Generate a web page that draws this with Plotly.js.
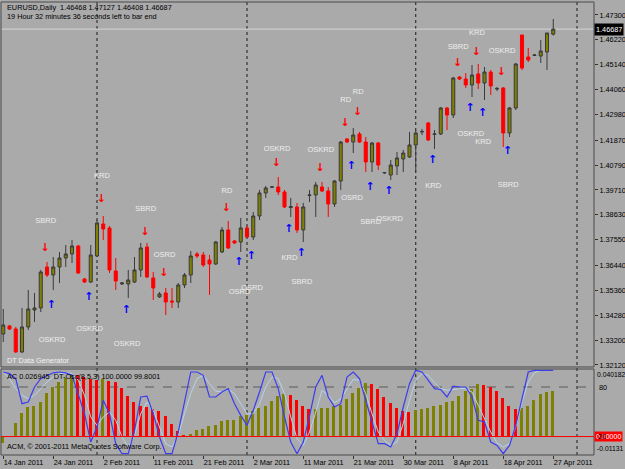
<!DOCTYPE html>
<html><head><meta charset="utf-8">
<script src="https://cdn.plot.ly/plotly-3.0.1.min.js"></script>
<style>html,body{margin:0;padding:0;background:#aaaaaa;}#chart{width:625px;height:469px;}</style>
</head><body><div id="chart"></div>
<script>
// ---- data ----
const dateLabels = ['14 Jan 2011','24 Jan 2011','2 Feb 2011','11 Feb 2011','21 Feb 2011','2 Mar 2011','11 Mar 2011','21 Mar 2011','30 Mar 2011','8 Apr 2011','18 Apr 2011','27 Apr 2011'];
const dateLabelIdx = [0,8,16,24,32,40,48,56,64,72,80,88];
const separatorIdx = [15,39,66,91.8];

const openP = [1.33465,1.33812,1.33681,1.32684,1.33768,1.34505,1.34592,1.36370,1.36023,1.36370,
1.36760,1.36934,1.37281,1.35850,1.35719,1.36847,1.38235,1.38062,1.36196,1.35633,
1.35633,1.35719,1.36240,1.37238,1.35893,1.35070,1.35243,1.34896,1.34852,1.35589,
1.36023,1.36934,1.36891,1.36674,1.36500,1.37021,1.37975,1.37498,1.37455,1.38062,
1.37671,1.38582,1.39580,1.39830,1.39840,1.39623,1.38950,1.38972,1.37975,1.39471,
1.39493,1.39840,1.39667,1.39103,1.40100,1.41922,1.41791,1.42139,1.41791,1.40924,
1.41748,1.40447,1.40360,1.40750,1.41054,1.41141,1.41662,1.42225,1.42616,1.42117,
1.42139,1.43266,1.42962,1.44610,1.44524,1.44264,1.44741,1.44350,1.44827,1.44090,
1.44134,1.42182,1.43266,1.46432,1.45478,1.45543,1.45521,1.45695,1.46468];
const highP = [1.34549,1.33855,1.33768,1.34592,1.35373,1.35243,1.36240,1.36587,1.36804,1.37021,
1.37324,1.37541,1.37324,1.35893,1.37324,1.38409,1.38582,1.38149,1.36760,1.35719,
1.36240,1.36804,1.37411,1.37411,1.36153,1.35286,1.35460,1.35460,1.35676,1.36110,
1.37064,1.37021,1.37021,1.36891,1.37498,1.38105,1.38365,1.37541,1.38495,1.38149,
1.38755,1.39710,1.39884,1.39884,1.40273,1.39710,1.39363,1.39146,1.39146,1.39710,
1.40057,1.40057,1.39840,1.40143,1.41835,1.41965,1.42399,1.42225,1.42008,1.41791,
1.41791,1.40490,1.41011,1.41358,1.41445,1.42225,1.42312,1.42355,1.42659,1.42312,
1.43309,1.43309,1.44610,1.44654,1.44784,1.45131,1.45174,1.45044,1.44914,1.44177,
1.44177,1.43309,1.45218,1.46432,1.45868,1.45608,1.46215,1.46519,1.47127];
const lowP = [1.33117,1.33638,1.32641,1.32641,1.33638,1.33985,1.34418,1.35936,1.35373,1.35676,
1.36370,1.36544,1.36066,1.35676,1.35676,1.36804,1.37541,1.36110,1.35373,1.35589,
1.35026,1.35676,1.35936,1.35893,1.34939,1.35026,1.34288,1.34592,1.34592,1.35460,
1.35676,1.36760,1.36370,1.35156,1.36457,1.36977,1.37151,1.37368,1.37021,1.37628,
1.37541,1.38409,1.39363,1.39797,1.39493,1.38929,1.38539,1.37845,1.37455,1.39189,
1.38539,1.39623,1.38539,1.38972,1.39710,1.41748,1.41314,1.41748,1.40490,1.40490,
1.40577,1.40403,1.40143,1.40360,1.40490,1.41098,1.40490,1.42095,1.41835,1.41488,
1.42095,1.42312,1.42832,1.44480,1.44134,1.43743,1.44090,1.43613,1.43830,1.44003,
1.41575,1.42008,1.43179,1.44914,1.45261,1.45521,1.45218,1.44914,1.46408];
const closeP = [1.33855,1.33681,1.32684,1.33768,1.34549,1.34592,1.36153,1.36023,1.36370,1.36760,
1.36934,1.37281,1.36110,1.35719,1.36891,1.38279,1.38018,1.36240,1.35763,1.35676,
1.35806,1.36240,1.37194,1.35936,1.35460,1.35200,1.34852,1.34852,1.35589,1.36023,
1.36847,1.36847,1.36457,1.36500,1.37455,1.37975,1.37194,1.37411,1.38062,1.37671,
1.38582,1.39580,1.39797,1.39840,1.39623,1.38972,1.38994,1.37975,1.38972,1.39493,
1.39927,1.39667,1.39103,1.40100,1.41791,1.41791,1.42095,1.41791,1.40924,1.41748,
1.40794,1.40468,1.40794,1.41098,1.41314,1.41662,1.42182,1.42247,1.41878,1.42139,
1.43266,1.42962,1.44567,1.44524,1.44264,1.44697,1.44350,1.44827,1.44220,1.44112,
1.42182,1.43266,1.45174,1.45001,1.45348,1.45565,1.45738,1.46519,1.46687];

const acValues = [-0.0040,0.0005,0.0080,0.0140,0.0174,0.0180,0.0204,0.0260,0.0294,0.0326,
0.0350,0.0370,0.0366,0.0352,0.0345,0.0338,0.0345,0.0330,0.0323,0.0290,
0.0244,0.0206,0.0180,0.0174,0.0166,0.0150,0.0120,0.0074,0.0034,0.0010,
0.0016,0.0036,0.0044,0.0060,0.0070,0.0090,0.0096,0.0097,0.0124,0.0130,
0.0150,0.0170,0.0184,0.0210,0.0240,0.0256,0.0246,0.0220,0.0180,0.0164,
0.0166,0.0167,0.0170,0.0180,0.0190,0.0226,0.0260,0.0290,0.0320,0.0314,
0.0284,0.0236,0.0200,0.0170,0.0150,0.0144,0.0156,0.0164,0.0170,0.0184,
0.0190,0.0204,0.0214,0.0244,0.0274,0.0284,0.0310,0.0308,0.0294,0.0274,
0.0230,0.0180,0.0164,0.0170,0.0180,0.0220,0.0256,0.0264,0.026945];
const oscMain = [98,96,90,60,62,80,90,94,97,98,
97,94,72,48,14,32,64,48,12,0,
0,28,68,69,48,20,0,0,26,60,
98,98,94,68,68,74,78,60,46,34,
52,74,98,98,78,44,14,0,14,45,
80,94,68,56,60,92,98,90,64,40,
12,12,8,24,56,84,100,98,88,78,
77,68,81,80,80,68,40,38,14,10,
0,10,34,66,98,100,100,100,100];
const oscSignal = [98,90,78,70,66,70,78,86,92,96,
97,96,88,70,44,34,44,50,40,20,
8,22,48,62,52,32,12,8,22,48,
72,90,94,84,75,74,77,72,60,48,
48,60,80,92,90,72,44,18,10,26,
50,76,70,61,66,78,89,88,72,48,
26,16,10,14,36,64,88,96,94,85,
78,76,77,78,78,74,58,42,26,13,
8,12,32,62,86,97,100,100,99.8001];

const priceTicks = [1.47300,1.46220,1.45140,1.44060,1.42980,1.41870,1.40790,1.39710,1.38630,1.37550,1.36440,1.35360,1.34280,1.33200,1.32120];

const downArrowIdx = [7,16,23,26,36,44,51,55,57,73,76,80];
const downArrowPrice = [1.37194,1.39320,1.37888,1.36110,1.38929,1.40881,1.40664,1.42616,1.43093,1.45218,1.45695,1.44827];
const upArrowIdx = [8,14,20,38,40,46,48,56,59,62,69,75,77,81];
const upArrowPrice = [1.34722,1.35069,1.34505,1.36587,1.36847,1.38018,1.36977,1.40750,1.39840,1.39666,1.41011,1.43266,1.43049,1.41401];

const tagText = ['SBRD','KRD','SBRD','OSKRD','OSKRD','OSKRD','OSRD','RD','OSKRD','OSKRD','RD','RD','OSRD','SBRD','OSKRD','OSRD','OSRD','KRD','SBRD','KRD','OSKRD','KRD','SBRD','KRD','SBRD','OSKRD'];
const tagIdx = [7,16,23,8,14,20,26,36,44,51,55,57,56,59,62,38,40,46,48,69,75,77,81,76,73,80];
const tagPrice = [1.38365,1.40317,1.38886,1.33204,1.33681,1.33031,1.36891,1.39666,1.41488,1.41445,1.43613,1.43960,1.39363,1.38322,1.38452,1.35286,1.35460,1.36760,1.35720,1.39883,1.42138,1.41791,1.39927,1.46519,1.45912,1.45738];

// ---- build ----
const idx = openP.map((_, i) => i);
const last = openP.length - 1;
const F = 'Liberation Sans, Arial, sans-serif';
const OLIVE = '#808000', RED = '#ff0000';
const acColors = acValues.map((v, i) => (i === 0 || v >= acValues[i - 1]) ? OLIVE : RED);

const traces = [
  {type:'candlestick', x:idx, open:openP, high:highP, low:lowP, close:closeP,
   xaxis:'x', yaxis:'y', whiskerwidth:0, hoverinfo:'skip',
   increasing:{line:{color:'#3a3a3a', width:1}, fillcolor:OLIVE},
   decreasing:{line:{color:RED, width:1}, fillcolor:RED}},
  {type:'scatter', mode:'text', x:tagIdx.map(v => v - 0.2), y:tagPrice, text:tagText,
   textfont:{family:F, size:7.5, color:'#eeeeee'}, xaxis:'x', yaxis:'y', hoverinfo:'skip', cliponaxis:false},
  {type:'scatter', mode:'text', x:downArrowIdx.map(v => v - 0.3), y:downArrowPrice, text:downArrowIdx.map(() => '↓'),
   textfont:{family:'DejaVu Sans', size:11, color:RED, weight:'bold'}, xaxis:'x', yaxis:'y', hoverinfo:'skip'},
  {type:'scatter', mode:'text', x:upArrowIdx.map(v => v - 0.3), y:upArrowPrice, text:upArrowIdx.map(() => '↑'),
   textfont:{family:'DejaVu Sans', size:11, color:'#0000ff', weight:'bold'}, xaxis:'x', yaxis:'y', hoverinfo:'skip'},
  {type:'bar', x:idx, y:acValues, marker:{color:acColors, line:{width:0}}, width:0.48, offset:-0.36,
   xaxis:'x', yaxis:'y2', hoverinfo:'skip'},
  {type:'scatter', mode:'lines', x:idx, y:oscSignal, line:{color:'#b4d4ec', width:1},
   xaxis:'x', yaxis:'y3', hoverinfo:'skip'},
  {type:'scatter', mode:'lines', x:idx, y:oscMain, line:{color:'#3c3cf0', width:1.2},
   xaxis:'x', yaxis:'y3', hoverinfo:'skip'}
];

const mainDom = [0.1943, 1], subDom = [0, 0.1898];
const shapes = [];
separatorIdx.forEach(s => shapes.push({type:'line', xref:'x', yref:'paper', x0:s, x1:s, y0:0, y1:1,
  line:{color:'#1a1a1a', width:1, dash:'dot'}, layer:'below'}));
shapes.push({type:'line', xref:'paper', yref:'y', x0:0, x1:1, y0:closeP[last], y1:closeP[last], line:{color:'#d4d4d4', width:1}, layer:'below'});
shapes.push({type:'line', xref:'paper', yref:'y3', x0:0, x1:1, y0:80, y1:80, line:{color:'#5a5a5a', width:1, dash:'dash'}, layer:'below'});
shapes.push({type:'line', xref:'paper', yref:'y2', x0:0, x1:1, y0:0, y1:0, line:{color:RED, width:1}, layer:'above'});
shapes.push({type:'rect', xref:'paper', yref:'paper', x0:0, x1:1, y0:mainDom[0], y1:mainDom[1], line:{color:'#4a4a4a', width:1}});
shapes.push({type:'rect', xref:'paper', yref:'paper', x0:0, x1:1, y0:subDom[0], y1:subDom[1], line:{color:'#4a4a4a', width:1}});

const f5 = v => v.toFixed(5);
const annotations = [
  {xref:'paper', yref:'paper', x:0, y:1, xanchor:'left', yanchor:'top', xshift:4, yshift:1, showarrow:false, align:'left',
   text:'EURUSD,Daily  ' + [openP[last], highP[last], lowP[last], closeP[last]].map(f5).join(' ') + '<br>19 Hour 32 minutes 36 seconds left to bar end',
   font:{family:F, size:7.3, color:'#000'}},
  {xref:'paper', yref:'paper', x:0, y:mainDom[0], xanchor:'left', yanchor:'bottom', xshift:4, yshift:0, showarrow:false,
   text:'DT Data Generator', font:{family:F, size:7.3, color:'#f2f2f2'}},
  {xref:'paper', yref:'paper', x:0, y:subDom[1], xanchor:'left', yanchor:'top', xshift:4, yshift:-1, showarrow:false,
   text:'AC ' + acValues[last].toFixed(6) + '  DT-Osc(8,5,3) ' + oscMain[last].toFixed(4) + ' ' + oscSignal[last].toFixed(4),
   font:{family:F, size:7.3, color:'#000'}},
  {xref:'paper', yref:'paper', x:0, y:0, xanchor:'left', yanchor:'bottom', xshift:4, yshift:2, showarrow:false,
   text:'ACM, © 2001-2011 MetaQuotes Software Corp.', font:{family:F, size:7.3, color:'#000'}},
  {xref:'paper', yref:'y', x:1, y:closeP[last], xanchor:'left', yanchor:'middle', xshift:0, showarrow:false,
   text:f5(closeP[last]), bgcolor:'#000000', font:{family:F, size:7.3, color:'#ffffff'}, borderpad:1},
  {xref:'paper', yref:'paper', x:1, y:subDom[1], xanchor:'left', yanchor:'top', xshift:1, showarrow:false,
   text:'0.040182', font:{family:F, size:6.8, color:'#000'}},
  {xref:'paper', yref:'y3', x:1, y:80, xanchor:'left', yanchor:'middle', xshift:3, showarrow:false,
   text:'80', font:{family:F, size:7.3, color:'#000'}},
  {xref:'paper', yref:'y2', x:1, y:0, xanchor:'left', yanchor:'middle', xshift:0, showarrow:false,
   text:'0.00000', bgcolor:RED, font:{family:F, size:7, color:'#ffffff'}, borderpad:1},
  {xref:'paper', yref:'y2', x:1, y:0, xanchor:'left', yanchor:'middle', xshift:2, showarrow:false,
   text:'20', font:{family:F, size:7, color:'#000'}},
  {xref:'paper', yref:'paper', x:1, y:0, xanchor:'left', yanchor:'bottom', xshift:1, yshift:1, showarrow:false,
   text:'-0.01131', font:{family:F, size:6.8, color:'#000'}}
];

const layout = {
  width:625, height:469,
  margin:{l:1, r:31, t:2, b:14, pad:0},
  paper_bgcolor:'#aaaaaa', plot_bgcolor:'#aaaaaa',
  showlegend:false, hovermode:false,
  font:{family:F, size:7.3, color:'#000'},
  xaxis:{range:[-0.36, 94.52], anchor:'y2', showgrid:false, zeroline:false, showline:false,
    tickmode:'array', tickvals:dateLabelIdx, ticktext:dateLabels, ticks:'outside', ticklen:3, tickcolor:'#333',
    ticklabelposition:'outside right', tickfont:{family:F, size:7.3, color:'#000'},
    rangeslider:{visible:false}, fixedrange:true},
  yaxis:{domain:mainDom, range:[1.32033, 1.47863], side:'right', anchor:'x',
    tickmode:'array', tickvals:priceTicks, ticktext:priceTicks.map(f5), ticks:'outside', ticklen:3, tickcolor:'#333',
    tickfont:{family:F, size:7.3, color:'#000'}, showgrid:false, zeroline:false, showline:false, fixedrange:true},
  yaxis2:{domain:subDom, range:[-0.0110, 0.0402], anchor:'x', showticklabels:false, ticks:'',
    showgrid:false, zeroline:false, showline:false, fixedrange:true},
  yaxis3:{overlaying:'y2', range:[-1.56, 101.56], visible:false, showgrid:false, zeroline:false, fixedrange:true},
  bargap:0,
  shapes:shapes, annotations:annotations
};

Plotly.newPlot('chart', traces, layout, {staticPlot:true, displayModeBar:false});
</script>
</body></html>
